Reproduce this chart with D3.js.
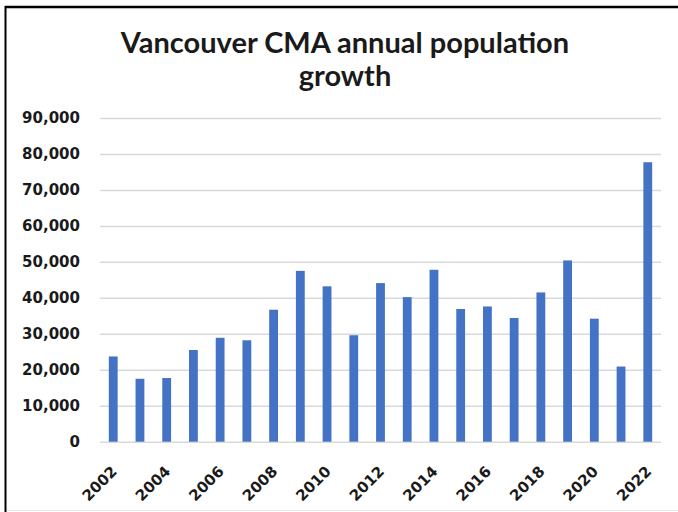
<!DOCTYPE html>
<html>
<head>
<meta charset="utf-8">
<script src="https://cdn.jsdelivr.net/npm/d3@7"></script>
<style>
  body { margin: 0; background: #fff; }
  .axis text { font-family: "DejaVu Sans", Verdana, sans-serif; font-weight: bold; font-size: 15px; fill: #1a1a1a; }
</style>
</head>
<body>
<div id="chart"></div>
<script>
// data
const years = d3.range(2002, 2023).map(String);
const growth = [23700, 17500, 17700, 25500, 28900, 28200, 36700, 47500, 43200, 29600,
                44100, 40200, 47800, 36900, 37600, 34400, 41500, 50400, 34200, 20900, 77700];
const yTicks = [0, 10000, 20000, 30000, 40000, 50000, 60000, 70000, 80000, 90000];
const xTicks = ["2002", "2004", "2006", "2008", "2010", "2012", "2014", "2016", "2018", "2020", "2022"];
const titleLines = ["Vancouver CMA annual population", "growth"];

const W = 678, H = 512;
const margin = {top: 118, right: 17, bottom: 70, left: 100};
const width = W - margin.left - margin.right,
      height = 441.7 - margin.top;

const svg = d3.select("#chart")
  .append("svg")
    .attr("width", W)
    .attr("height", H);

// frame (screenshot border)
svg.append("line").attr("x1", 5).attr("x2", W).attr("y1", 7).attr("y2", 7)
  .attr("stroke", "#000").attr("stroke-width", 2.5);
svg.append("line").attr("x1", 5.5).attr("x2", 5.5).attr("y1", 6).attr("y2", H)
  .attr("stroke", "#000").attr("stroke-width", 2);
svg.append("line").attr("x1", 7).attr("x2", W).attr("y1", 510.5).attr("y2", 510.5)
  .attr("stroke", "#e6e6e6").attr("stroke-width", 1);

// title
svg.append("text")
  .attr("x", 345)
  .attr("y", 53)
  .attr("text-anchor", "middle")
  .style("font-family", "Lato, sans-serif")
  .style("font-weight", "bold")
  .style("font-size", "29px")
  .style("fill", "#1a1a1a")
  .selectAll("tspan")
  .data(titleLines)
  .enter().append("tspan")
    .attr("x", 345)
    .attr("dy", (d, i) => i ? 33 : 0)
    .text(d => d);

const g = svg.append("g")
  .attr("transform", `translate(${margin.left},${margin.top})`);

const x = d3.scaleBand()
  .domain(years)
  .range([0, width])
  .paddingInner(0.67)
  .paddingOuter(0.33);

const y = d3.scaleLinear()
  .domain([0, 90000])
  .range([height, 0]);

// y axis with gridlines
g.append("g")
  .attr("class", "axis")
  .call(d3.axisLeft(y).tickValues(yTicks).tickFormat(d3.format(",")).tickSize(-width).tickPadding(20))
  .call(a => a.select(".domain").remove())
  .call(a => a.selectAll(".tick line").attr("stroke", "#d9d9d9").attr("stroke-width", 1.5));

// bars
g.selectAll("rect.bar")
  .data(growth)
  .enter().append("rect")
    .attr("class", "bar")
    .attr("x", (d, i) => x(years[i]))
    .attr("width", x.bandwidth())
    .attr("y", d => y(d))
    .attr("height", d => height - y(d))
    .attr("fill", "#4472c4");

// x axis
g.append("g")
  .attr("class", "axis")
  .attr("transform", `translate(0,${height})`)
  .call(d3.axisBottom(x).tickValues(xTicks).tickSize(0))
  .call(a => a.select(".domain").remove())
  .selectAll("text")
    .attr("y", 0)
    .attr("dy", "0.35em")
    .attr("text-anchor", "end")
    .attr("transform", "translate(1,27) rotate(-45)");
</script>
</body>
</html>
